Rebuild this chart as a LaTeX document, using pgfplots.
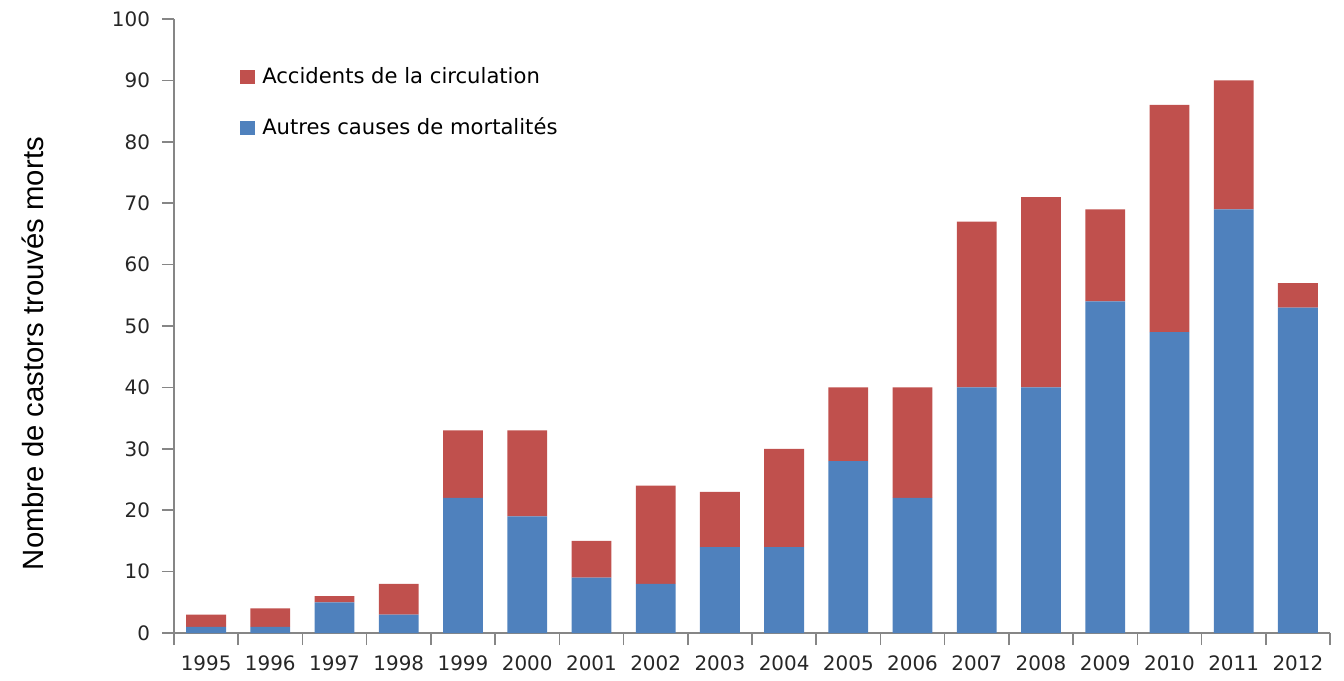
\documentclass[border=0pt]{standalone}
\usepackage{fontspec}
\setmainfont{DejaVu Sans}
\newfontfamily\arial{Liberation Sans}
\usepackage{pgfplots}
\pgfplotsset{compat=1.18}
\definecolor{cblue}{HTML}{4F81BD}
\definecolor{cred}{HTML}{C0504D}
\definecolor{axgray}{HTML}{868686}
\begin{document}
\begin{tikzpicture}
\useasboundingbox (-87bp,-24bp) rectangle (585bp,316.5bp);
\begin{axis}[
  at={(0,0)}, anchor=south west,
  scale only axis, width=578bp, height=307bp,
  ybar stacked, bar width=0.62,
  xmin=-0.5, xmax=17.5, ymin=0, ymax=100,
  ytick={0,10,...,100},
  xtick={-0.5,0.5,...,17.5},
  x tick label as interval,
  xticklabels={1995,1996,1997,1998,1999,2000,2001,2002,2003,2004,2005,2006,2007,2008,2009,2010,2011,2012},
  axis x line*=bottom, axis y line*=left,
  axis line style={axgray, line width=0.8pt},
  tick style={axgray, line width=0.8pt},
  tick align=outside, major tick length=6bp,
  /pgf/number format/assume math mode=true,
  tick label style={font=\fontsize{10}{12}\selectfont, text=black!85},
  xticklabel style={yshift=-2bp},
  yticklabel style={xshift=-2.5bp},
  every axis y label/.style={at={(axis description cs:-0.1375,0.455)}, rotate=90, anchor=north},
  ylabel={\arial\fontsize{14.7}{17}\selectfont Nombre de castors trouvés morts},
  legend style={at={(axis description cs:0.057,0.928)}, anchor=north west, draw=none, fill=none,
    font=\fontsize{10.6}{12.5}\selectfont, row sep=11.5bp, inner sep=0pt},
  legend cell align=left,
  reverse legend,
  legend image code/.code={\fill[#1] (0bp,-3.5bp) rectangle (7.5bp,3.5bp);},
]
\addplot[fill=cblue, draw=none] coordinates {
(0,1) (1,1) (2,5) (3,3) (4,22) (5,19) (6,9) (7,8) (8,14) (9,14) (10,28) (11,22) (12,40) (13,40) (14,54) (15,49) (16,69) (17,53)};
\addlegendentry{\hspace{1.5bp}Autres causes de mortalités}
\addplot[fill=cred, draw=none] coordinates {
(0,2) (1,3) (2,1) (3,5) (4,11) (5,14) (6,6) (7,16) (8,9) (9,16) (10,12) (11,18) (12,27) (13,31) (14,15) (15,37) (16,21) (17,4)};
\addlegendentry{\hspace{1.5bp}Accidents de la circulation}
\end{axis}
\end{tikzpicture}
\end{document}
